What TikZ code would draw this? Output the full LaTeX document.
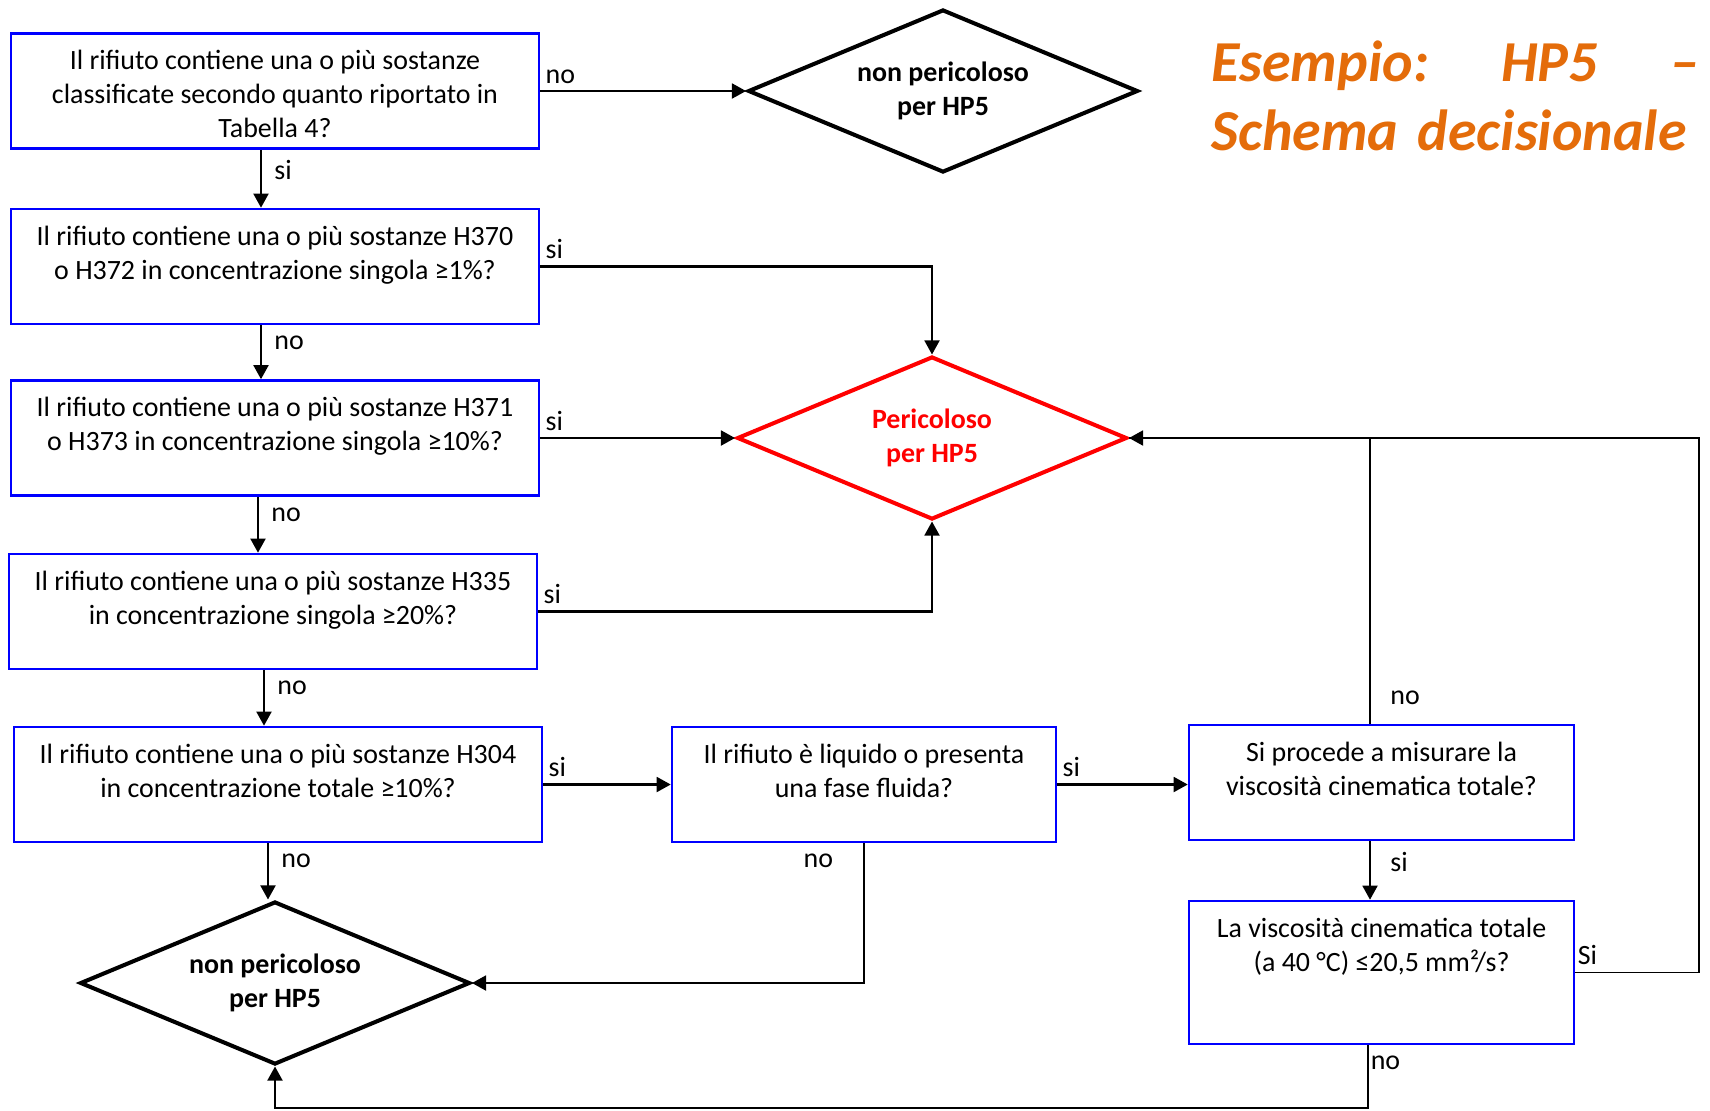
\documentclass[tikz,border=0pt]{standalone}
\usepackage{fontspec}
\setmainfont{Carlito}
\usetikzlibrary{arrows.meta,shapes.geometric}

\definecolor{blu}{RGB}{0,0,255}
\definecolor{rosso}{RGB}{255,0,0}
\definecolor{arancio}{RGB}{228,108,10}

\newcommand{\corpo}{\fontsize{15.9}{19.4}\selectfont}
\newcommand{\testo}[3]{\parbox[c][#2][t]{#1}{\centering\vspace{7pt}\strut #3}}

\tikzset{
  domanda/.style={draw=blu, line width=1.5pt, inner sep=0pt},
  esito/.style={diamond, aspect=2.4, draw=black, line width=2.3pt, minimum width=7.8cm, minimum height=3.26cm,
    inner sep=0pt, align=center, font=\corpo\bfseries},
  titolo/.style={anchor=north west, inner sep=0pt, text width=9.76cm, align=left, text=arancio,
    font=\fontsize{33}{39.8}\selectfont\bfseries\itshape},
  freccia/.style={line width=1.2pt, -{Triangle[length=8pt,width=8.5pt]}},
  sottile/.style={line width=0.9pt},
  etsu/.style={anchor=base west, inner sep=0pt, xshift=2.5pt, yshift=4.5pt},
  etgiu/.style={anchor=north west, inner sep=0pt, xshift=7pt, yshift=-5.5pt}
}

\begin{document}
\begin{tikzpicture}[x=0.02cm, y=-0.02cm, font=\corpo] %Schema decisionale HP5
    \useasboundingbox (0,0) rectangle (1710,1110);

    \node[domanda] (q1) at (275,91) {\testo{10.56cm}{2.3cm}{Il rifiuto contiene una o più sostanze\\classificate secondo quanto riportato in\\Tabella 4?}};
    \node[domanda] (q2) at (275,266.5) {\testo{10.56cm}{2.3cm}{Il rifiuto contiene una o più sostanze H370\\o H372 in concentrazione singola ≥1\%?}};
    \node[domanda] (q3) at (275,438) {\testo{10.56cm}{2.3cm}{Il rifiuto contiene una o più sostanze H371\\o H373 in concentrazione singola ≥10\%?}};
    \node[domanda] (q4) at (273,611.5) {\testo{10.56cm}{2.3cm}{Il rifiuto contiene una o più sostanze H335\\in concentrazione singola ≥20\%?}};
    \node[domanda] (q5) at (278,784.5) {\testo{10.56cm}{2.3cm}{Il rifiuto contiene una o più sostanze H304\\in concentrazione totale ≥10\%?}};
    \node[domanda] (q6) at (864,784.5) {\testo{7.68cm}{2.3cm}{Il rifiuto è liquido o presenta\\una fase fluida?}};
    \node[domanda] (q7) at (1381.5,782.5) {\testo{7.7cm}{2.3cm}{Si procede a misurare la\\viscosità cinematica totale?}};
    \node[domanda] (q8) at (1381.5,972.5) {\testo{7.7cm}{2.86cm}{La viscosità cinematica totale\\(a 40 °C) ≤20,5 mm²/s?}};

    \node[esito] (nonp1) at (943,91) {non pericoloso\\per HP5};
    \node[esito, draw=rosso, text=rosso] (per) at (932,438) {Pericoloso\\per HP5};
    \node[esito] (nonp2) at (275,983) {non pericoloso\\per HP5};

    \node[titolo] (tit) at (1211,40) {Esempio:\hfill HP5\hfill –\\Schema decisionale};

    \coordinate (destra) at (1699,438);

    \draw[freccia] (q1.east) node[etsu]{no} -- (nonp1.west);
    \draw[freccia] (261,0 |- q1.south) node[etgiu]{si} -- (261,0 |- q2.north);
    \draw[freccia] (q2.east) node[etsu]{si} -| (per.north);
    \draw[freccia] (261,0 |- q2.south) node[etgiu]{no} -- (261,0 |- q3.north);
    \draw[freccia] (q3.east) node[etsu]{si} -- (per.west);
    \draw[freccia] (258,0 |- q3.south) node[etgiu]{no} -- (258,0 |- q4.north);
    \draw[freccia] (q4.east) node[etsu]{si} -| (per.south);
    \draw[freccia] (264,0 |- q4.south) node[etgiu]{no} -- (264,0 |- q5.north);
    \draw[freccia] (q5.east) node[etsu]{si} -- (q6.west);
    \draw[freccia] (268,0 |- q5.south) node[etgiu]{no} -- (268,0 |- nonp2.north);

    \draw[freccia] (q6.south) node[anchor=north east, inner sep=0pt, xshift=-17pt, yshift=-5.5pt]{no} |- (nonp2.east);
    \draw[freccia] (q6.east) node[etsu]{si} -- (q6.east -| q7.west);
    \draw[freccia] (1370,0 |- q7.north) node[anchor=base west, inner sep=0pt, xshift=11pt, yshift=11pt]{no} |- (per.east);
    \draw[freccia] (1370,0 |- q7.south) node[etgiu, xshift=4pt]{si} -- (1370,0 |- q8.north);
    \draw[sottile] (q8.east) node[etsu, xshift=-1.5pt]{Si} -| (destra) -- (per.east);
    \draw[freccia] (1368,0 |- q8.south) node[etgiu, xshift=-6pt]{no} -- ++(0,63) -| (nonp2.south);
\end{tikzpicture}
\end{document}
